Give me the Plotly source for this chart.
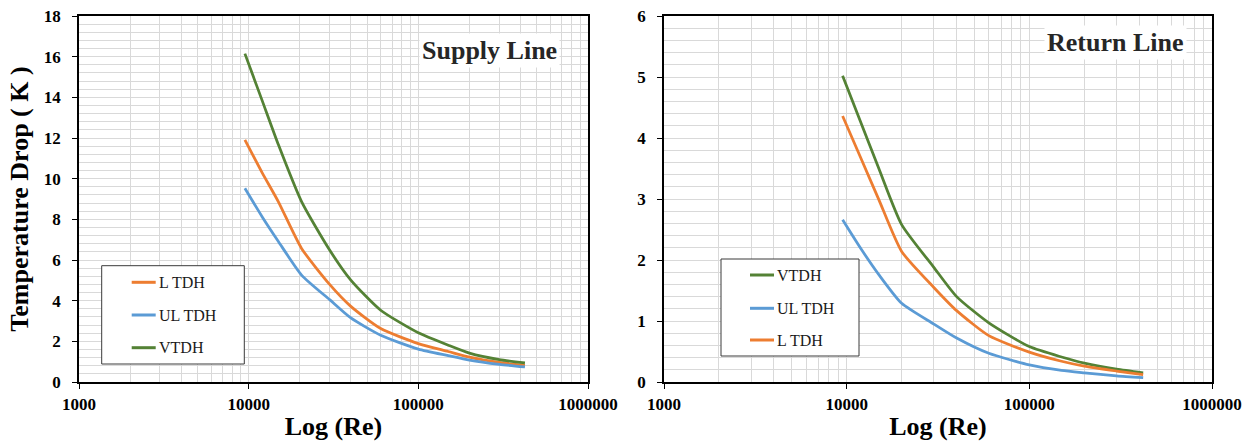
import plotly.graph_objects as go

# Supply line: temperature drop (K) against Reynolds number
re_supply = [9500, 12000, 15000, 20500, 30000, 40000, 60000, 100000, 150000, 200000, 300000, 425000]
supply_ltdh = [11.91, 10.30, 8.85, 6.57, 4.80, 3.72, 2.63, 1.89, 1.50, 1.22, 0.96, 0.82]
supply_ultdh = [9.53, 8.13, 6.90, 5.26, 4.05, 3.15, 2.30, 1.62, 1.30, 1.08, 0.87, 0.74]
supply_vtdh = [16.15, 13.85, 11.65, 8.87, 6.49, 5.01, 3.53, 2.42, 1.81, 1.42, 1.10, 0.94]

# Return line: temperature drop (K) against Reynolds number
re_return = [9500, 12000, 15000, 20000, 30000, 40000, 60000, 100000, 150000, 200000, 300000, 420000]
return_vtdh = [5.02, 4.24, 3.50, 2.58, 1.88, 1.40, 0.97, 0.58, 0.41, 0.31, 0.21, 0.15]
return_ultdh = [2.66, 2.18, 1.76, 1.29, 0.95, 0.72, 0.47, 0.28, 0.19, 0.15, 0.10, 0.07]
return_ltdh = [4.36, 3.66, 2.99, 2.14, 1.55, 1.17, 0.76, 0.49, 0.34, 0.26, 0.18, 0.12]

x_tick_vals = [1000, 10000, 100000, 1000000]
x_tick_text = ["1000", "10000", "100000", "1000000"]

COL_L = "#ED7D31"
COL_UL = "#5B9BD5"
COL_V = "#548235"
GRID = "#d9d9d9"
SERIF = "Liberation Serif, Times New Roman, serif"

W, H = 1256, 441
ML, MR, MT, MB = 79, 44, 16, 59
PW = W - ML - MR
PH = H - MT - MB


def px(x):
    return (x - ML) / PW


def py(y):
    return (H - MB - y) / PH


minor_x = [d * 10 ** k for k in (3, 4, 5) for d in range(2, 10)]

fig = go.Figure()


def add_line(x, y, name, color, xa, ya):
    fig.add_trace(go.Scatter(
        x=x, y=y, name=name, mode="lines",
        line=dict(color=color, width=2.75, shape="spline", smoothing=0.6),
        xaxis=xa, yaxis=ya, showlegend=False,
    ))


add_line(re_supply, supply_ltdh, "L TDH", COL_L, "x", "y")
add_line(re_supply, supply_ultdh, "UL TDH", COL_UL, "x", "y")
add_line(re_supply, supply_vtdh, "VTDH", COL_V, "x", "y")
add_line(re_return, return_vtdh, "VTDH", COL_V, "x2", "y2")
add_line(re_return, return_ultdh, "UL TDH", COL_UL, "x2", "y2")
add_line(re_return, return_ltdh, "L TDH", COL_L, "x2", "y2")

tick_font = dict(family=SERIF, size=17, color="black", weight="bold")
title_font = dict(family=SERIF, size=26, color="black", weight="bold")

xcommon = dict(
    type="log", range=[3, 6], tickmode="array", tickvals=x_tick_vals, ticktext=x_tick_text,
    showline=True, linecolor="black", linewidth=1.5, mirror=True,
    ticks="outside", ticklen=5, tickcolor="black", tickwidth=1,
    showgrid=True, gridcolor=GRID, gridwidth=1,
    minor=dict(tickmode="array", tickvals=minor_x, showgrid=True, gridcolor=GRID, gridwidth=1, ticks=""),
    tickfont=tick_font, zeroline=False, ticklabelstandoff=1, automargin=False,
    title=dict(text="Log (Re)", font=title_font, standoff=6),
)
ycommon = dict(
    showline=True, linecolor="black", linewidth=1.5, mirror=True,
    ticks="outside", ticklen=5, tickcolor="black", tickwidth=1,
    showgrid=True, gridcolor=GRID, gridwidth=1, tickmode="linear", tick0=0,
    tickfont=tick_font, zeroline=False, ticklabelstandoff=8, automargin=False,
)

fig.update_layout(
    width=W, height=H,
    margin=dict(l=ML, r=MR, t=MT, b=MB, autoexpand=False),
    plot_bgcolor="white", paper_bgcolor="white",
    showlegend=False,
    xaxis=dict(domain=[0, px(588)], anchor="y", **xcommon),
    xaxis2=dict(domain=[px(664), 1], anchor="y2", **xcommon),
    yaxis=dict(range=[0, 18], dtick=2, anchor="x",
               minor=dict(dtick=0.4, tick0=0, showgrid=True, gridcolor=GRID, gridwidth=1, ticks=""),
               title=dict(text="Temperature Drop ( K )", font=title_font, standoff=8),
               **ycommon),
    yaxis2=dict(range=[0, 6], dtick=1, anchor="x2",
                minor=dict(dtick=0.2, tick0=0, showgrid=True, gridcolor=GRID, gridwidth=1, ticks=""),
                **ycommon),
)

# Panel titles
fig.add_annotation(x=px(489.5), y=py(50), xref="paper", yref="paper", text="Supply Line",
                   xanchor="center", yanchor="middle",
                   showarrow=False, bgcolor="white", borderpad=2,
                   font=dict(family=SERIF, size=26, color="#262626", weight="bold"))
fig.add_annotation(x=px(1115), y=py(43), xref="paper", yref="paper", text="Return Line",
                   xanchor="center", yanchor="middle",
                   showarrow=False, bgcolor="white", borderpad=2,
                   font=dict(family=SERIF, size=26, color="#262626", weight="bold"))


def legend_box(x0, y0, x1, y1, line_x0, line_x1, rows):
    fig.add_shape(type="rect", xref="paper", yref="paper",
                  x0=px(x0), x1=px(x1), y0=py(y0), y1=py(y1),
                  line=dict(color="#3a3a3a", width=1), fillcolor="white", layer="above")
    for yy, label, color in rows:
        fig.add_shape(type="line", xref="paper", yref="paper",
                      x0=px(line_x0), x1=px(line_x1), y0=py(yy), y1=py(yy),
                      line=dict(color=color, width=3), layer="above")
        fig.add_annotation(x=px(line_x1 + 1), y=py(yy), xref="paper", yref="paper",
                           text=label, showarrow=False, xanchor="left", yanchor="middle",
                           font=dict(family=SERIF, size=16, color="#1a1a1a"))


legend_box(101.7, 265.7, 244.3, 364, 131.7, 155.7,
           [(282.3, "L TDH", COL_L), (315, "UL TDH", COL_UL), (347.7, "VTDH", COL_V)])
legend_box(721, 259, 859, 356, 750, 774,
           [(275, "VTDH", COL_V), (308.3, "UL TDH", COL_UL), (340, "L TDH", COL_L)])

fig.write_html("out.html")
